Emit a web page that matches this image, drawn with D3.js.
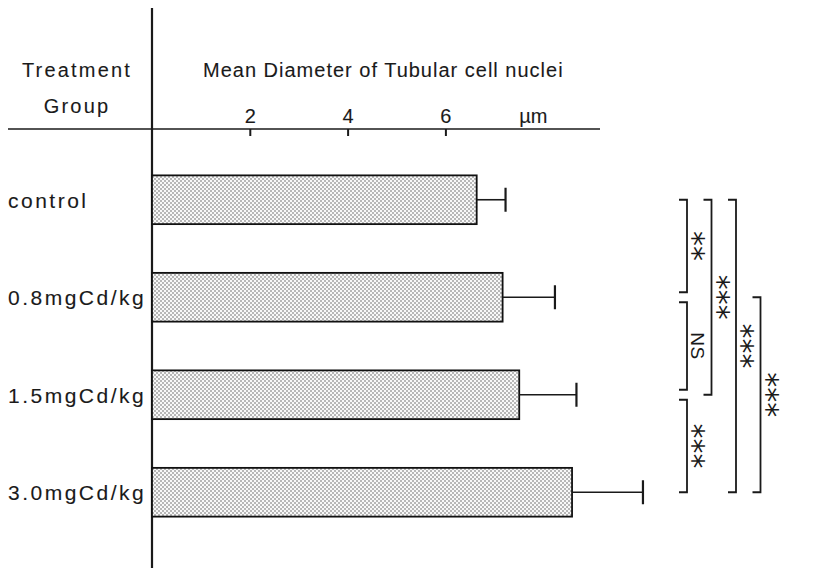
<!DOCTYPE html>
<html>
<head>
<meta charset="utf-8">
<script src="https://cdn.jsdelivr.net/npm/d3@7/dist/d3.min.js"></script>
<style>
  body { margin: 0; background: #fff; }
  svg text { font-family: "Liberation Sans", Arial, sans-serif; fill: #1a1a1a; stroke: #1a1a1a; stroke-width: 0.1px; }
</style>
</head>
<body>
<svg id="chart" width="815" height="570"></svg>
<script>
// data
const groups    = ["control", "0.8mgCd/kg", "1.5mgCd/kg", "3.0mgCd/kg"];
const meanDiam  = [6.64, 7.17, 7.51, 8.59];
const sdDiam    = [0.59, 1.07, 1.17, 1.45];
const tickVals  = [2, 4, 6];
// significance brackets: [from group, to group, label]
const sigPairs  = [[0, 1, "**"], [1, 2, "NS"], [2, 3, "***"], [0, 2, "***"], [0, 3, "***"], [1, 3, "***"]];
const sigLevel  = [0, 0, 0, 1, 2, 3];

const svg = d3.select("#chart");

const x = d3.scaleLinear().domain([0, 10]).range([152, 641]);
const y = d3.scaleBand().domain(groups).range([151, 541]).paddingInner(0.5).paddingOuter(0.25);

// dotted fill like the screened print
const defs = svg.append("defs");
const pat = defs.append("pattern").attr("id", "dots")
  .attr("width", 4).attr("height", 4).attr("patternUnits", "userSpaceOnUse");
pat.append("rect").attr("width", 4).attr("height", 4).attr("fill", "#f8f8f8");
pat.append("circle").attr("cx", 1).attr("cy", 1).attr("r", 0.75).attr("fill", "#555");
pat.append("circle").attr("cx", 3).attr("cy", 3).attr("r", 0.75).attr("fill", "#555");

// header
svg.append("text").attr("x", 77).attr("y", 77).attr("text-anchor", "middle")
  .style("font-size", "20px").style("letter-spacing", "2.2px").text("Treatment");
svg.append("text").attr("x", 77).attr("y", 113).attr("text-anchor", "middle")
  .style("font-size", "20px").style("letter-spacing", "2.2px").text("Group");
svg.append("text").attr("x", 203).attr("y", 77)
  .style("font-size", "20px").style("letter-spacing", "1px").text("Mean Diameter of Tubular cell nuclei");

// horizontal rule + vertical axis
svg.append("line").attr("x1", 8).attr("x2", 600).attr("y1", 129).attr("y2", 129)
  .attr("stroke", "#1a1a1a").attr("stroke-width", 1.6);
svg.append("line").attr("x1", x(0)).attr("x2", x(0)).attr("y1", 8).attr("y2", 568)
  .attr("stroke", "#1a1a1a").attr("stroke-width", 2.2);

// x axis: labels above the rule, ticks below it
const xAxis = d3.axisTop(x).tickValues(tickVals).tickSizeInner(-7).tickSizeOuter(0).tickPadding(6);
const gx = svg.append("g").attr("transform", "translate(0,129)").call(xAxis);
gx.select(".domain").remove();
gx.selectAll(".tick line").attr("stroke", "#1a1a1a").attr("stroke-width", 2);
gx.selectAll(".tick text").attr("fill", "#1a1a1a")
  .style("font-family", "Liberation Sans, Arial, sans-serif").style("font-size", "20px");
svg.append("text").attr("x", x(7.8)).attr("y", 123).attr("text-anchor", "middle")
  .style("font-size", "20px").text("\u00b5m");

// group labels
svg.selectAll(".glabel").data(groups).join("text").attr("class", "glabel")
  .attr("x", 8).attr("y", d => y(d) + y.bandwidth() / 2 + 8)
  .style("font-size", "21px").style("letter-spacing", "2.5px").text(d => d);

// bars
svg.selectAll(".bar").data(groups).join("rect").attr("class", "bar")
  .attr("x", x(0)).attr("y", d => y(d))
  .attr("width", (d, i) => x(meanDiam[i]) - x(0)).attr("height", y.bandwidth())
  .attr("fill", "url(#dots)").attr("stroke", "#111").attr("stroke-width", 1.8);

// error bars
const eb = svg.selectAll(".err").data(groups).join("g").attr("class", "err");
eb.append("line")
  .attr("x1", (d, i) => x(meanDiam[i])).attr("x2", (d, i) => x(meanDiam[i] + sdDiam[i]))
  .attr("y1", d => y(d) + y.bandwidth() / 2).attr("y2", d => y(d) + y.bandwidth() / 2)
  .attr("stroke", "#1a1a1a").attr("stroke-width", 1.6);
eb.append("line")
  .attr("x1", (d, i) => x(meanDiam[i] + sdDiam[i])).attr("x2", (d, i) => x(meanDiam[i] + sdDiam[i]))
  .attr("y1", d => y(d) + y.bandwidth() / 2 - 12).attr("y2", d => y(d) + y.bandwidth() / 2 + 12)
  .attr("stroke", "#1a1a1a").attr("stroke-width", 2.2);

// significance brackets
const mid = i => y(groups[i]) + y.bandwidth() / 2;
const levelX = lv => 687 + lv * 24.5;
sigPairs.forEach(function(p, k){
  const lv = sigLevel[k], bx = levelX(lv);
  const trim = lv === 0 ? 5 : 0;
  const y1 = mid(p[0]) + (p[0] > 0 ? trim : 0), y2 = mid(p[1]) - (p[1] < groups.length - 1 ? trim : 0);
  svg.append("path")
    .attr("d", `M${bx - 8},${y1}H${bx}V${y2}H${bx - 8}`)
    .attr("fill", "none").attr("stroke", "#1a1a1a").attr("stroke-width", 1.8);
  const isText = p[2] === "NS";
  const cy = (y1 + y2) / 2;
  svg.append("text")
    .attr("transform", `translate(${bx + (isText ? 4 : -4)},${cy}) rotate(90)`)
    .attr("text-anchor", "middle")
    .style("font-family", isText ? "Liberation Sans, Arial, sans-serif" : "DejaVu Sans, sans-serif")
    .style("font-size", isText ? "19px" : "30px")
    .style("letter-spacing", isText ? "0.5px" : "0px")
    .style("stroke-width", "0px")
    .text(p[2]);
});
</script>
</body>
</html>
